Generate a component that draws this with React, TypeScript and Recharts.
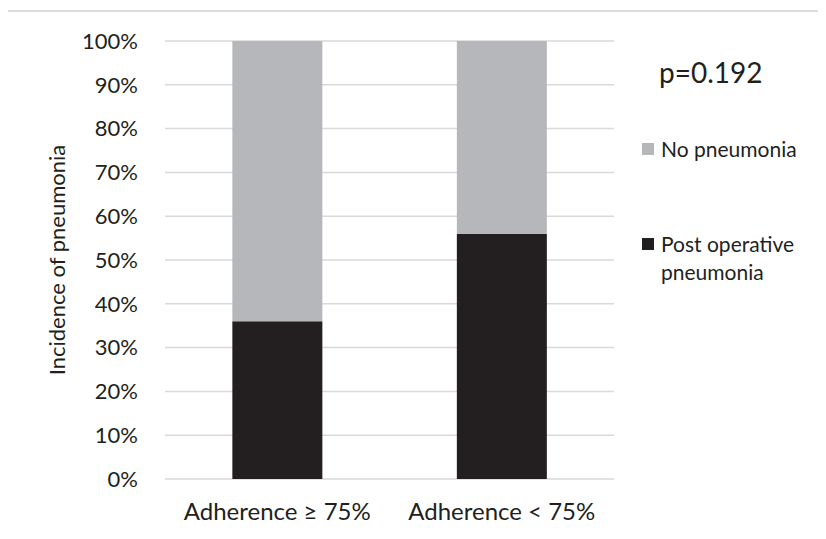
import React from "react";
import { BarChart, Bar, XAxis, YAxis, CartesianGrid } from "recharts";

const categories = ["Adherence ≥ 75%", "Adherence < 75%"];
const postOperative = [36, 56];
const noPneumonia = [64, 44];
const yTicks = [0, 10, 20, 30, 40, 50, 60, 70, 80, 90, 100];
const pValue = "p=0.192";

const series = [
  { key: "post", name: "Post operative pneumonia", color: "#231f20" },
  { key: "none", name: "No pneumonia", color: "#b6b7ba" },
];

const data = categories.map((name, i) => ({
  name,
  post: postOperative[i],
  none: noPneumonia[i],
}));

const FONT = "Lato, 'Noto Sans', sans-serif";
const TEXT = "#231f20";

function LegendBox() {
  const items = [...series].reverse();
  return (
    <div
      style={{
        position: "absolute",
        left: 642,
        top: 135,
        fontFamily: FONT,
        fontSize: 21,
        color: TEXT,
        lineHeight: "28px",
      }}
    >
      {items.map((item, i) => (
        <div
          key={item.key}
          style={{ display: "flex", alignItems: "flex-start", marginTop: i === 0 ? 0 : 67 }}
        >
          <span
            style={{
              width: 12,
              height: 12,
              background: item.color,
              marginTop: 8,
              marginRight: 7,
              flexShrink: 0,
            }}
          />
          <span style={{ width: 150 }}>{item.name}</span>
        </div>
      ))}
    </div>
  );
}

function YLabel({ viewBox }: any) {
  const cy = viewBox.y + viewBox.height / 2;
  return (
    <text
      x={56}
      y={cy}
      transform={`rotate(-90, 56, ${cy})`}
      textAnchor="middle"
      dominantBaseline="central"
      fill={TEXT}
      fontSize={22}
      fontFamily={FONT}
    >
      Incidence of pneumonia
    </text>
  );
}

export default function App() {
  return (
    <div style={{ position: "relative", width: 826, height: 539, margin: -8, background: "#fff", overflow: "hidden" }}>
      <div
        style={{
          position: "absolute",
          left: 6,
          top: 10,
          right: 0,
          bottom: 0,
          borderTop: "2px solid #dcdcdc",
          borderLeft: "2px solid #dcdcdc",
        }}
      />
      <div
        style={{
          position: "absolute",
          left: 659,
          top: 55,
          fontFamily: FONT,
          fontSize: 28,
          color: TEXT,
        }}
      >
        {pValue}
      </div>
      <LegendBox />
      <div style={{ position: "absolute", left: 0, top: 0 }}>
        <BarChart
          width={826}
          height={539}
          data={data}
          margin={{ top: 41, right: 212, left: 0, bottom: 0 }}
          barCategoryGap="30%"
        >
          <CartesianGrid vertical={false} stroke="#d9d9d9" strokeWidth={1.5} />
          <XAxis
            dataKey="name"
            height={60}
            interval={0}
            axisLine={false}
            tickLine={false}
            tickSize={0}
            tickMargin={24}
            tick={{ fill: TEXT, fontSize: 24, fontFamily: FONT }}
          />
          <YAxis
            width={165}
            domain={[0, 100]}
            ticks={yTicks}
            tickFormatter={(v) => `${v}%`}
            axisLine={false}
            tickLine={false}
            tickSize={0}
            tickMargin={27}
            tick={{ fill: TEXT, fontSize: 22, fontFamily: FONT }}
            label={<YLabel />}
          />
          {series.map((s) => (
            <Bar
              key={s.key}
              dataKey={s.key}
              name={s.name}
              stackId="a"
              fill={s.color}
              isAnimationActive={false}
            />
          ))}
        </BarChart>
      </div>
    </div>
  );
}
